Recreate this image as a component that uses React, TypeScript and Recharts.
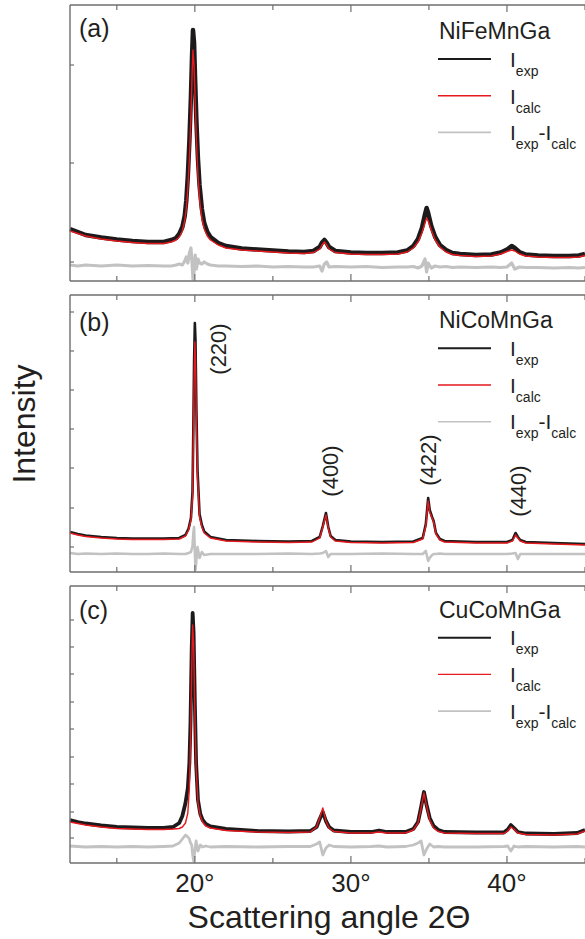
import React from 'react';
import { LineChart, Line, XAxis, YAxis, ReferenceDot, Label } from 'recharts';

// panel (a) NiFeMnGa — intensities in arbitrary units (0..276)
const angleA = [12, 12.5, 13, 14, 15, 16, 17, 18, 18.5, 18.8, 19.0, 19.2, 19.35, 19.45, 19.55, 19.65, 19.75, 19.82, 19.88, 19.95, 20.02, 20.1, 20.2, 20.3, 20.45, 20.6, 20.8, 21.0, 21.5, 22, 23, 24, 25, 26, 27, 27.6, 28.0, 28.15, 28.3, 28.45, 28.6, 29.0, 30, 31, 32, 33, 33.6, 34.0, 34.3, 34.55, 34.75, 34.85, 34.95, 35.15, 35.4, 35.7, 36.1, 36.5, 37, 38, 39, 39.6, 40.0, 40.3, 40.5, 40.8, 41.2, 42, 43, 44, 44.6, 45];
const expA = [52, 49, 46, 43.5, 41.5, 40, 39, 39, 41, 43, 47, 54, 65, 80, 105, 140, 185, 225, 251, 238, 200, 160, 122, 96, 72, 58, 49, 44, 38, 35, 32.5, 31.5, 30.5, 29.5, 29, 30, 34, 38.5, 41, 38, 34, 30, 28.5, 28, 28, 28.5, 30.5, 35, 42, 53, 67, 73, 68, 55, 44, 36, 31, 28, 27, 26, 26.5, 28.5, 31.5, 35, 33, 29, 26.5, 25.5, 25, 25, 25.5, 27];
const calcA = [50, 47.5, 45, 42, 40, 38.5, 37.5, 37.5, 39, 41, 44, 50, 60, 72, 92, 122, 165, 205, 231, 215, 180, 140, 105, 82, 62, 52, 45, 41, 36, 33, 31, 30, 29, 28, 27.5, 28.5, 32, 36, 39, 36, 32, 28.5, 27, 26.5, 26.5, 27, 29, 33, 39, 48, 58, 63, 60, 51, 41, 34, 29, 26.5, 25.5, 24.5, 25, 27, 29.5, 31, 30, 27, 25, 24, 23.5, 23.5, 24, 25.5];
const diffA = [16, 15, 16, 15, 16, 15, 15.5, 15, 15, 16, 17, 16, 20, 24, 18, 28, 33, 18, 2, 10, 26, 12, 22, 18, 17, 19, 17, 16, 15, 15, 14.5, 15, 14, 14.5, 14, 14, 15, 10, 17, 19, 14, 14.5, 14, 14.5, 13.5, 14, 14, 14.5, 13, 15, 22, 9, 18, 13, 15, 14, 14.5, 13.5, 14, 13.5, 14, 13.5, 14, 18, 12, 14, 13.5, 13.5, 13, 13.5, 13, 13.5];

// panel (b) NiCoMnGa
const angleB = [12, 12.5, 13, 14, 15, 16, 17, 18, 19, 19.4, 19.6, 19.75, 19.85, 19.9, 19.95, 20.0, 20.04, 20.1, 20.17, 20.3, 20.45, 20.6, 21, 22, 24, 26, 27.5, 28.0, 28.2, 28.4, 28.55, 28.7, 29, 30, 32, 34, 34.6, 34.8, 34.95, 35.05, 35.2, 35.3, 35.45, 35.7, 36, 38, 40, 40.35, 40.55, 40.7, 40.85, 41.2, 43, 45];
const expB = [40, 38, 36.5, 35, 34, 33.5, 33.5, 33.5, 34, 37, 43.5, 54, 80, 140, 210, 249, 232, 162, 102, 58, 47, 40.5, 35, 32, 31, 30.5, 31, 35, 46, 59, 45, 36, 32, 30.5, 30, 30.5, 34, 48, 74, 62, 55, 51, 39, 33, 31, 30, 30, 32, 39, 35, 32, 30, 29, 28];
const calcB = [39, 37, 35.5, 34, 33, 32.5, 32.5, 32.5, 33, 36, 42, 52, 75, 130, 190, 230, 215, 150, 95, 55, 45, 39, 34, 31, 30, 29.5, 30, 34, 45, 57, 44, 35, 31, 29.5, 29, 29.5, 33, 46, 71, 60, 54, 50, 38, 32, 30, 29, 29, 31, 37, 34, 31, 29, 28, 27];
const diffB = [19, 18, 18.5, 18, 18.5, 18, 18, 18.5, 18, 18, 19, 20, 26, 38, 45, 20, 2, 12, 25, 14, 20, 17, 18, 18, 18, 18.5, 18, 18.5, 19, 21, 15, 18, 18, 18, 18.5, 18, 18, 21, 11, 14, 17, 18, 18, 18.5, 18, 18, 18, 18.5, 19, 13, 18, 18, 18, 18];

// panel (c) CuCoMnGa
const angleC = [12, 12.5, 13, 14, 15, 16, 17, 18, 18.6, 19.0, 19.2, 19.4, 19.55, 19.65, 19.72, 19.8, 19.86, 19.92, 20.0, 20.08, 20.2, 20.35, 20.5, 20.7, 21, 22, 24, 26, 27.4, 27.8, 28.0, 28.2, 28.4, 28.6, 28.9, 30, 31.3, 31.8, 32.3, 33.5, 34.0, 34.3, 34.5, 34.68, 34.85, 35.05, 35.3, 35.6, 36, 38, 39.8, 40.05, 40.25, 40.45, 40.7, 41.2, 43, 44.5, 45];
const expC = [43, 41, 39.5, 37.5, 36, 35.5, 35, 35, 36, 40, 47, 60, 75, 100, 140, 215, 250, 230, 160, 100, 63, 49, 43, 39, 36.5, 34, 32, 31.5, 32, 36, 44, 51, 42, 36, 32.5, 31, 31, 32.5, 31, 31, 34, 41, 56, 71, 58, 45, 37, 33, 31, 30.5, 30.5, 33.5, 38, 35, 31, 29.5, 29, 30, 33];
const calcC = [41, 39.5, 38, 36, 34.5, 34, 33.5, 33.5, 34, 34.5, 36, 40, 50, 75, 120, 195, 238, 220, 150, 95, 60, 47, 41, 37, 35, 32.5, 31, 30.5, 31, 36, 45, 55, 42, 35, 31.5, 30, 30, 31, 30, 30, 33, 40, 55, 70, 57, 43, 35, 31.5, 30, 29.5, 29.5, 32, 36, 34, 30, 28.5, 28, 29, 32];
const diffC = [17, 16.5, 16, 16.5, 16, 16.5, 16, 16.5, 17, 20, 24, 28, 26, 24, 20, 18, 8, 2, 12, 22, 12, 18, 16, 17, 16, 16.5, 16, 16.5, 16.5, 19, 21, 8, 15, 18, 16.5, 16, 16.5, 17, 16, 16.5, 18, 20, 22, 8, 14, 19, 16, 16.5, 16, 16, 16.5, 17, 12, 17, 16, 16.5, 16, 16.5, 16];

const xTicks = [15, 20, 25, 30, 35, 40, 45];
const xLabelTicks = [20, 30, 40];
const yTicksA = [19, 118, 216];
const yTicksB = [25, 64, 104, 143, 182, 221, 260];
const yTicksC = [25, 51, 79, 106, 134, 161, 189, 216, 243];

const peaksB = [
  { label: '(220)', angle: 21.5, y: 223 },
  { label: '(400)', angle: 28.66, y: 101 },
  { label: '(422)', angle: 34.96, y: 112 },
  { label: '(440)', angle: 40.73, y: 81 },
];

const FONT = '"Liberation Sans", Arial, Helvetica, sans-serif';
const AXIS = '#6e6e6e';
const TEXT = '#231f20';
const BLACK = '#1c1a1b';
const RED = '#e5191e';
const GREY = '#c2c2c2';

const buildRows = (angle: number[], exp: number[], calc: number[], diff: number[]) =>
  angle.map((a, i) => ({ angle: a, exp: exp[i], calc: calc[i], diff: diff[i] }));

const bottomTick = (showLabel: boolean) => (props: any) => {
  const { x, y, payload } = props;
  const major = payload.value % 10 === 0;
  return (
    <g>
      <line x1={x} x2={x} y1={y} y2={y - (major ? 7 : 5)} stroke={AXIS} strokeWidth={1.2} />
      {showLabel && xLabelTicks.includes(payload.value) && (
        <text x={x} y={y + 28.5} textAnchor="middle" fontSize={26} fill={TEXT} fontFamily={FONT}>
          {payload.value}°
        </text>
      )}
    </g>
  );
};

const topTick = (props: any) => {
  const { x, y, payload } = props;
  const major = payload.value % 10 === 0;
  return <line x1={x} x2={x} y1={y} y2={y + (major ? 7 : 5)} stroke={AXIS} strokeWidth={1.2} />;
};

const leftTick = (props: any) => {
  const { x, y } = props;
  return <line x1={x} x2={x + 4} y1={y} y2={y} stroke={AXIS} strokeWidth={1.2} />;
};

interface PanelProps {
  rows: { angle: number; exp: number; calc: number; diff: number }[];
  yMax: number;
  yTicks: number[];
  top: number;
  height: number;
  marginTop: number;
  marginBottom: number;
  showLabels?: boolean;
  blackWidth: number;
  greyWidth: number;
  peaks?: { label: string; angle: number; y: number }[];
}

function Panel({ rows, yMax, yTicks, top, height, marginTop, marginBottom, showLabels, blackWidth, greyWidth, peaks }: PanelProps) {
  return (
    <div style={{ position: 'absolute', left: 0, top, width: 585, height }}>
      <LineChart width={585} height={height} data={rows} margin={{ top: marginTop, right: 0, bottom: marginBottom, left: 0 }}>
        <XAxis
          dataKey="angle"
          type="number"
          domain={[12, 45]}
          ticks={xTicks}
          height={1}
          tickSize={0}
          tickMargin={0}
          tickLine={false}
          axisLine={{ stroke: AXIS, strokeWidth: 1.4 }}
          tick={bottomTick(!!showLabels)}
          interval={0}
        />
        <XAxis
          xAxisId="top"
          orientation="top"
          dataKey="angle"
          type="number"
          domain={[12, 45]}
          ticks={xTicks}
          height={1}
          tickSize={0}
          tickMargin={0}
          tickLine={false}
          axisLine={{ stroke: AXIS, strokeWidth: 1.4 }}
          tick={topTick}
          interval={0}
        />
        <YAxis
          type="number"
          domain={[0, yMax]}
          ticks={yTicks}
          width={70}
          tickSize={0}
          tickMargin={0}
          tickLine={false}
          axisLine={{ stroke: AXIS, strokeWidth: 1.4 }}
          tick={leftTick}
          interval={0}
        />
        <Line type="linear" dataKey="diff" stroke={GREY} strokeWidth={greyWidth} dot={false} isAnimationActive={false} strokeLinejoin="round" />
        <Line type="linear" dataKey="exp" stroke={BLACK} strokeWidth={blackWidth} dot={false} isAnimationActive={false} strokeLinejoin="round" />
        <Line type="linear" dataKey="calc" stroke={RED} strokeWidth={1.4} dot={false} isAnimationActive={false} strokeLinejoin="round" />
        {(peaks || []).map((p) => (
          <ReferenceDot key={p.label} x={p.angle} y={p.y} r={0} fill="none" stroke="none" ifOverflow="visible">
            <Label value={p.label} angle={-90} position="center" fill={TEXT} fontSize={22} fontFamily={FONT} />
          </ReferenceDot>
        ))}
      </LineChart>
    </div>
  );
}

function LegendBlock({ name, line1 }: { name: string; line1: number }) {
  const gap = 36.7;
  const ys = [line1, line1 + gap, line1 + 2 * gap];
  return (
    <g fontFamily={FONT} fill={TEXT}>
      <text x={439} y={line1 - 20} fontSize={23}>{name}</text>
      <line x1={438} x2={491} y1={ys[0]} y2={ys[0]} stroke={BLACK} strokeWidth={2} />
      <line x1={438} x2={491} y1={ys[1]} y2={ys[1]} stroke={RED} strokeWidth={1.4} />
      <line x1={438} x2={491} y1={ys[2]} y2={ys[2]} stroke={GREY} strokeWidth={1.6} />
      <text x={510} y={ys[0] + 7.5} fontSize={21}>
        I<tspan fontSize={14} dy={9}>exp</tspan>
      </text>
      <text x={510} y={ys[1] + 8} fontSize={21}>
        I<tspan fontSize={14} dy={9}>calc</tspan>
      </text>
      <text x={510} y={ys[2] + 7.5} fontSize={21}>
        I<tspan fontSize={14} dy={9}>exp</tspan>
        <tspan fontSize={21} dy={-9}>-I</tspan>
        <tspan fontSize={14} dy={9}>calc</tspan>
      </text>
    </g>
  );
}

export default function App() {
  const rowsA = buildRows(angleA, expA, calcA, diffA);
  const rowsB = buildRows(angleB, expB, calcB, diffB);
  const rowsC = buildRows(angleC, expC, calcC, diffC);

  return (
    <div style={{ position: 'absolute', left: 0, top: 0, width: 585, height: 939, background: '#fff', overflow: 'hidden', fontFamily: FONT }}>
      <Panel rows={rowsA} yMax={276} yTicks={yTicksA} top={0} height={290} marginTop={4} marginBottom={8} blackWidth={4.5} greyWidth={3.2} />
      <Panel rows={rowsB} yMax={277} yTicks={yTicksB} top={290} height={287} marginTop={4} marginBottom={4} blackWidth={2.6} greyWidth={2.6} peaks={peaksB} />
      <Panel rows={rowsC} yMax={277} yTicks={yTicksC} top={577} height={362} marginTop={8} marginBottom={75} showLabels blackWidth={3.8} greyWidth={2.8} />
      <svg width={585} height={939} style={{ position: 'absolute', left: 0, top: 0, pointerEvents: 'none' }}>
        <g fontFamily={FONT} fill={TEXT} fontSize={25}>
          <text x={79} y={37}>(a)</text>
          <text x={79} y={331}>(b)</text>
          <text x={79} y={619}>(c)</text>
        </g>
        <LegendBlock name="NiFeMnGa" line1={59} />
        <LegendBlock name="NiCoMnGa" line1={348.3} />
        <LegendBlock name="CuCoMnGa" line1={637.7} />
        <text transform="translate(35,424) rotate(-90)" textAnchor="middle" fontSize={32} fill={TEXT} fontFamily={FONT}>
          Intensity
        </text>
        <text x={329} y={928} textAnchor="middle" fontSize={32} fill={TEXT} fontFamily={FONT}>
          Scattering angle 2Θ
        </text>
      </svg>
    </div>
  );
}
